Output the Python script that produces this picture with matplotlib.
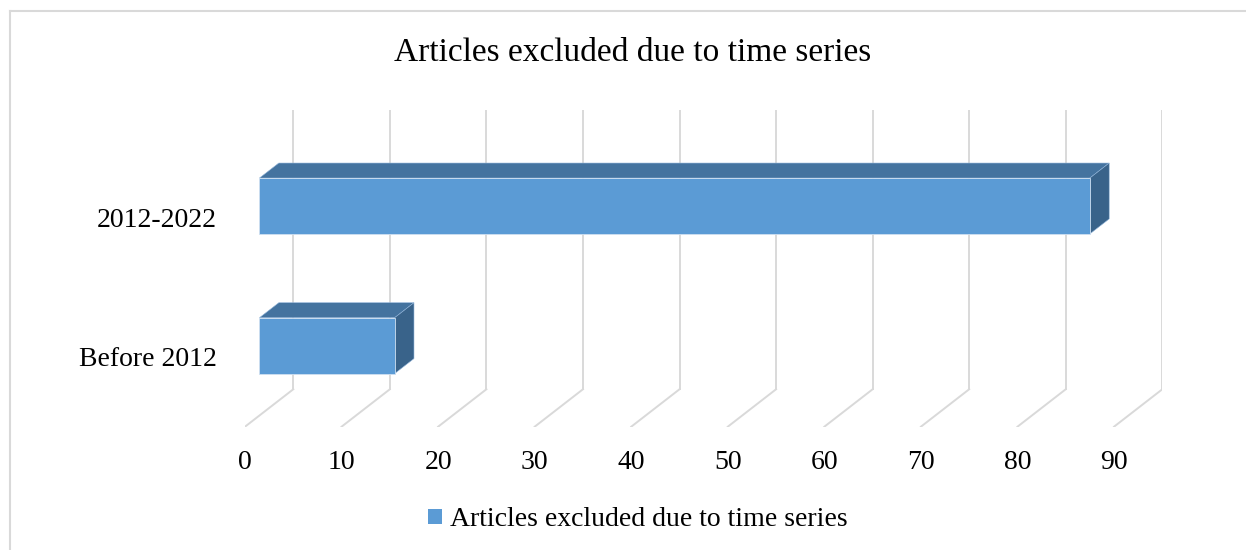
import matplotlib
matplotlib.use("Agg")
import matplotlib.pyplot as plt
from matplotlib.patches import Polygon, Patch
from matplotlib.lines import Line2D

# data
categories = ["Before 2012", "2012-2022"]
values = [14, 86]
ticks = list(range(0, 100, 10))
title = "Articles excluded due to time series"
series_name = "Articles excluded due to time series"

# colours
FRONT = "#5b9bd5"
TOP = "#44739f"
SIDE = "#39638a"
GRID = "#d9d9d9"

# 3d look: depth offset in data units (x in values, y in categories)
DX = 5.0
DY = 0.268
D0, D1 = 0.3, 0.7   # bar depth range
H = 0.2             # half bar height


def P(x, y, d):
    return (x + d * DX, y + d * DY)


plt.rcParams["font.family"] = ["Liberation Serif", "DejaVu Serif"]

W, Hpx = 1246, 550
fig = plt.figure(figsize=(W / 100, Hpx / 100), dpi=100)

# axes placed so that x=0 sits on front plane, back wall top at 1.5+DY
ax = fig.add_axes([245 / W, (Hpx - 426.7) / Hpx, 917.3 / W, 316.8 / Hpx])
ax.set_xlim(0, 90 + DX)
ax.set_ylim(-0.5, 1.5 + DY)
for s in ax.spines.values():
    s.set_visible(False)

# gridlines: back wall verticals + floor diagonals
for t in ticks:
    ax.plot([t + DX, t + DX], [-0.5 + DY, 1.5 + DY], color=GRID, lw=1.4, zorder=1)
    ax.plot([t, t + DX], [-0.5, -0.5 + DY], color=GRID, lw=1.4, zorder=1)

# bars
for i, v in enumerate(values):
    y0, y1 = i - H, i + H
    front = [P(0, y0, D0), P(v, y0, D0), P(v, y1, D0), P(0, y1, D0)]
    top = [P(0, y1, D0), P(v, y1, D0), P(v, y1, D1), P(0, y1, D1)]
    side = [P(v, y0, D0), P(v, y0, D1), P(v, y1, D1), P(v, y1, D0)]
    ax.add_patch(Polygon(top, closed=True, fc=TOP, ec="#8fb3d9", lw=0.4, zorder=3))
    ax.add_patch(Polygon(side, closed=True, fc=SIDE, ec="#8fb3d9", lw=0.4, zorder=3))
    ax.add_patch(Polygon(front, closed=True, fc=FRONT, ec="#cfe0f1", lw=0.6, zorder=4))

ax.set_xticks(ticks)
ax.set_xticklabels([str(t) for t in ticks], fontsize=20)
ax.set_yticks(range(len(categories)))
ax.set_yticklabels(categories, fontsize=20)
ax.tick_params(axis="x", length=0, pad=17)
ax.tick_params(axis="y", length=0, pad=20)

fig.text(633 / W, 1 - 53 / Hpx, title, fontsize=24, ha="center", va="center")

fig.legend(handles=[Patch(facecolor=FRONT, edgecolor="none", label=series_name)],
           loc="center", bbox_to_anchor=(638 / W, 1 - 520 / Hpx), frameon=False,
           fontsize=20, handlelength=0.47, handleheight=0.47, handletextpad=0.3)

# outer chart border (left and top visible)
fig.add_artist(Line2D([9.5 / W, 9.5 / W], [0, 1 - 11 / Hpx], color=GRID, lw=1.5))
fig.add_artist(Line2D([9.5 / W, 1], [1 - 11 / Hpx, 1 - 11 / Hpx], color=GRID, lw=1.5))

fig.savefig("out.png", dpi=100)
